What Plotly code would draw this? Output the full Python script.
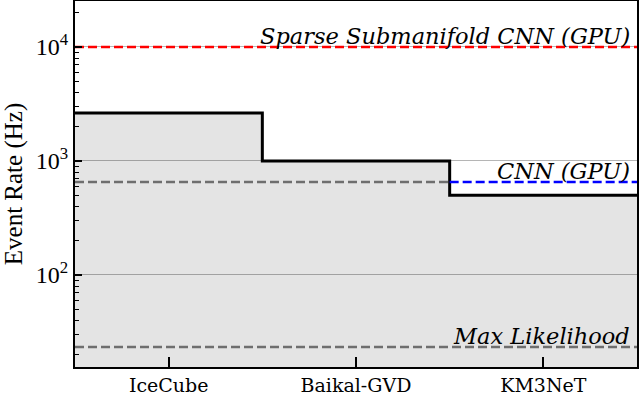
import math
import plotly.graph_objects as go

categories = ["IceCube", "Baikal-GVD", "KM3NeT"]
event_rates = [2640, 1000, 500]
sparse_cnn_rate = 10000
cnn_rate = 655
max_likelihood_rate = 23.3
ytick_vals = [100, 1000, 10000]
ytick_text = ["10<sup>2</sup>", "10<sup>3</sup>", "10<sup>4</sup>"]
minor_vals = [m * 10 ** e for e in (1, 2, 3, 4) for m in range(2, 10)]

FONT = "Liberation Serif"
AFONT = "DejaVu Serif"
Y_RANGE = [1.193, 4.403]
idx = list(range(len(categories)))
x_edges = [i - 0.5 for i in idx] + [idx[-1] + 0.5]
y_step = event_rates + [event_rates[-1]]
x_lo, x_hi = x_edges[0], x_edges[-1]
y_floor = 10 ** (Y_RANGE[0] - 0.5)

fx, fy = [x_lo], [y_floor]
for i, v in enumerate(event_rates):
    fx += [x_edges[i], x_edges[i + 1]]
    fy += [v, v]
fx += [x_hi, x_lo]
fy += [y_floor, y_floor]

fig = go.Figure()
fig.add_trace(go.Scatter(x=fx, y=fy, mode="lines", line=dict(width=0), fill="toself",
                         fillcolor="rgba(0,0,0,0.105)", hoverinfo="skip"))
fig.add_trace(go.Scatter(x=x_edges, y=y_step, mode="lines", line=dict(shape="hv", color="black", width=3),
                         hoverinfo="skip"))
dash = "9px,4px"
fig.add_trace(go.Scatter(x=[x_lo, x_hi], y=[sparse_cnn_rate] * 2, mode="lines",
                         line=dict(color="#ff0000", width=2.5, dash=dash)))
fig.add_trace(go.Scatter(x=[x_lo, 1.5], y=[cnn_rate] * 2, mode="lines",
                         line=dict(color="#6e6e6e", width=2.5, dash=dash)))
fig.add_trace(go.Scatter(x=[1.5, x_hi], y=[cnn_rate] * 2, mode="lines",
                         line=dict(color="#0000ff", width=2.5, dash=dash)))
fig.add_trace(go.Scatter(x=[x_lo, x_hi], y=[max_likelihood_rate] * 2, mode="lines",
                         line=dict(color="#6e6e6e", width=2.5, dash=dash)))

labels = [("Sparse Submanifold CNN (GPU)", sparse_cnn_rate),
          ("CNN (GPU)", cnn_rate),
          ("Max Likelihood", max_likelihood_rate)]
for txt, yv in labels:
    fig.add_annotation(x=x_hi - 0.025, y=math.log10(yv), text=f"<i>{txt}</i>", showarrow=False,
                       xanchor="right", yanchor="bottom", yshift=-4,
                       font=dict(family=AFONT, size=22.5, color="black"))

fig.update_layout(
    width=640, height=396,
    margin=dict(l=75, r=3, t=1, b=29, autoexpand=False),
    plot_bgcolor="white", paper_bgcolor="white",
    showlegend=False,
    font=dict(family=FONT, size=22, color="black"),
    xaxis=dict(range=[x_lo, x_hi], tickmode="array", tickvals=idx, ticktext=categories,
               ticks="inside", ticklen=10, tickwidth=1.5, tickcolor="black",
               showline=True, linecolor="black", linewidth=2, mirror=True,
               showgrid=False, zeroline=False, tickfont=dict(family=AFONT, size=19)),
    yaxis=dict(type="log", range=Y_RANGE, tickmode="array", tickvals=ytick_vals, ticktext=ytick_text,
               ticks="inside", ticklen=7, tickwidth=1.5, tickcolor="black",
               showline=True, linecolor="black", linewidth=2, mirror=True,
               showgrid=True, gridcolor="#b5b5b5", gridwidth=1, zeroline=False,
               minor=dict(tickmode="array", tickvals=minor_vals, ticks="inside", ticklen=4,
                          tickwidth=1, tickcolor="black", showgrid=False),
               title=dict(text="Event Rate (Hz)", font=dict(family=FONT, size=25), standoff=12),
               tickfont=dict(family=FONT, size=24)),
)

fig.write_html("out.html", config={"displayModeBar": False},
               post_script="document.body.style.margin='0';document.body.style.overflow='hidden';")
